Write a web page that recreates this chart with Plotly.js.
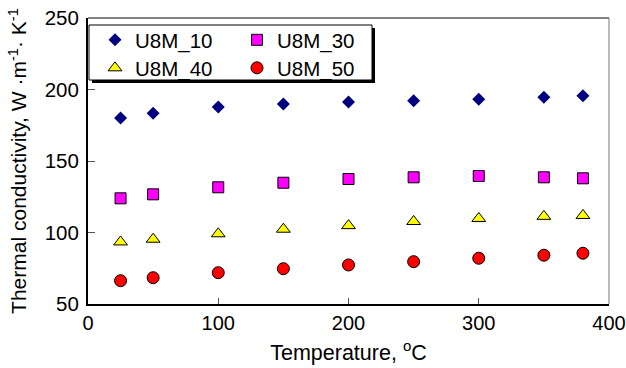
<!DOCTYPE html>
<html>
<head>
<meta charset="utf-8">
<script src="https://cdn.plot.ly/plotly-3.0.1.min.js"></script>
<style>
html,body{margin:0;padding:0;background:#fff;}
#chart{width:626px;height:368px;}
</style>
</head>
<body>
<div id="chart"></div>
<script>
// Data
var temperature = [25, 50, 100, 150, 200, 250, 300, 350, 380];
var u8m10 = [180.1, 183.4, 187.8, 189.9, 191.3, 192.2, 193.2, 194.5, 195.7];
var u8m30 = [123.9, 126.7, 131.6, 134.8, 137.4, 138.6, 139.5, 138.6, 137.9];
var u8m40 = [93.4, 95.3, 99.1, 102.3, 104.8, 107.7, 109.8, 111.3, 111.9];
var u8m50 = [66.3, 68.4, 71.9, 74.7, 77.3, 79.6, 82.0, 84.1, 85.5];
var seriesNames = ['U8M_10', 'U8M_30', 'U8M_40', 'U8M_50'];
var xTicks = [0, 100, 200, 300, 400];
var yTicks = [50, 100, 150, 200, 250];

var FONT = 'Liberation Sans, Arial, Helvetica, sans-serif';

// plot area in pixels
var L = 88, R = 17, T = 18, B = 64, W = 626, H = 368;
var PW = W - L - R, PH = H - T - B;
function fx(px) { return (px - L) / PW; }
function fy(py) { return (H - B - py) / PH; }

var traces = [
  {x: temperature, y: u8m10, name: seriesNames[0], type: 'scatter', mode: 'markers', legend: 'legend',
   marker: {symbol: 'diamond', size: 10, color: '#000080', line: {width: 0}}},
  {x: temperature, y: u8m30, name: seriesNames[1], type: 'scatter', mode: 'markers', legend: 'legend',
   marker: {symbol: 'square', size: 11, color: '#FF00FF', line: {width: 1, color: '#000'}}},
  {x: temperature, y: u8m40, name: seriesNames[2], type: 'scatter', mode: 'markers', legend: 'legend2',
   marker: {symbol: 'triangle-up', size: 12, color: '#FFFF00', line: {width: 1, color: '#000'}}},
  {x: temperature, y: u8m50, name: seriesNames[3], type: 'scatter', mode: 'markers', legend: 'legend2',
   marker: {symbol: 'circle', size: 12, color: '#FF0000', line: {width: 1, color: '#000'}}}
];

var legendCommon = {
  orientation: 'h', xanchor: 'left', yanchor: 'middle',
  entrywidth: 97, bgcolor: 'rgba(0,0,0,0)', borderwidth: 0,
  font: {family: FONT, size: 20.5, color: '#000'}, traceorder: 'normal'
};

var layout = {
  width: W, height: H,
  margin: {l: L, r: R, t: T, b: B, pad: 0},
  paper_bgcolor: '#fff', plot_bgcolor: '#fff',
  font: {family: FONT, color: '#000'},
  showlegend: true,
  legend: Object.assign({}, legendCommon, {x: fx(95), y: fy(40)}),
  legend2: Object.assign({}, legendCommon, {x: fx(95), y: fy(68)}),
  xaxis: {
    range: [0, 400], tickvals: xTicks, ticktext: xTicks.map(String),
    ticks: 'inside', ticklen: 6, tickwidth: 1, tickcolor: '#555',
    showline: true, linewidth: 2, linecolor: '#000',
    showgrid: false, zeroline: false, ticklabeloverflow: 'allow',
    tickfont: {family: FONT, size: 20, color: '#000'},
    title: {text: 'Temperature, <sup>o</sup>C', font: {family: FONT, size: 21.5, color: '#000'}, standoff: 12},
    automargin: false
  },
  yaxis: {
    range: [50, 250], tickvals: yTicks, ticktext: yTicks.map(String),
    ticks: 'inside', ticklen: 7, tickwidth: 1, tickcolor: '#555',
    showline: true, linewidth: 2, linecolor: '#000',
    showgrid: false, zeroline: false, ticklabelstandoff: 3, ticklabeloverflow: 'allow',
    tickfont: {family: FONT, size: 20.5, color: '#000'},
    title: {text: 'Thermal conductivity, W \u00b7m<sup>-1</sup>\u00b7 K<sup>-1</sup>', font: {family: FONT, size: 21, color: '#000'}, standoff: 12},
    automargin: false
  },
  shapes: [
    {type: 'line', xref: 'paper', yref: 'paper', x0: 0, x1: 1, y0: 1, y1: 1, line: {color: '#000', width: 1}},
    {type: 'line', xref: 'paper', yref: 'paper', x0: 1, x1: 1, y0: 0, y1: 1, line: {color: '#777', width: 1}},
    {type: 'rect', xref: 'paper', yref: 'paper', layer: 'above',
     x0: fx(92), x1: fx(375), y0: fy(83), y1: fy(28), fillcolor: '#000', line: {width: 0}},
    {type: 'rect', xref: 'paper', yref: 'paper', layer: 'above',
     x0: fx(89), x1: fx(372), y0: fy(80), y1: fy(25), fillcolor: '#fff', line: {color: '#000', width: 1}}
  ]
};

Plotly.newPlot('chart', traces, layout, {displayModeBar: false, staticPlot: true});
</script>
</body>
</html>
